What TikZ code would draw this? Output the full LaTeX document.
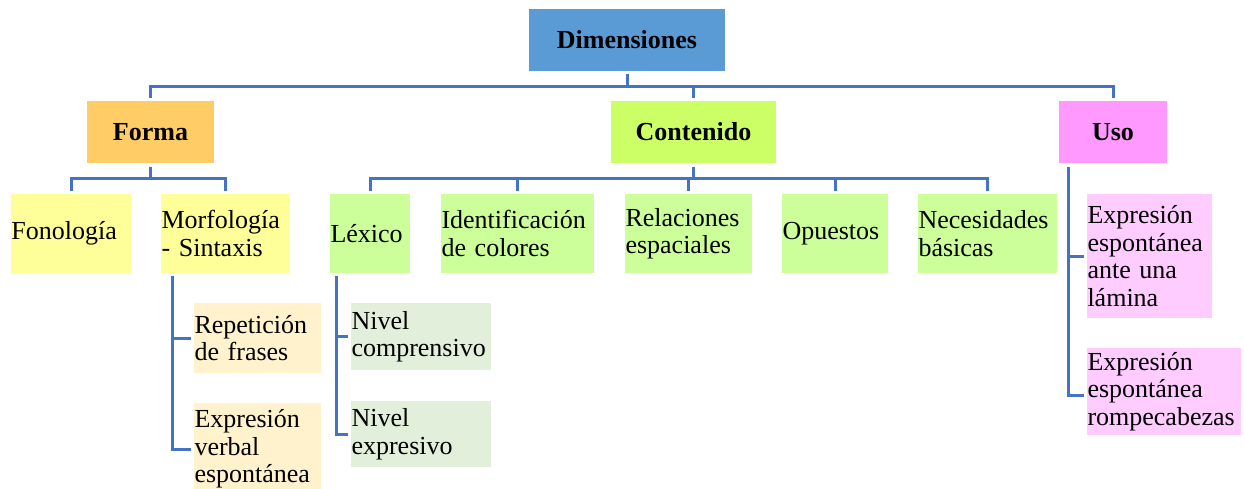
\documentclass[tikz,border=0pt]{standalone}
\usepackage{fontspec}
\setmainfont{Liberation Serif}
\usetikzlibrary{calc}
\definecolor{cdim}{HTML}{5B9BD5}
\definecolor{cforma}{HTML}{FFCC66}
\definecolor{ccont}{HTML}{CCFF66}
\definecolor{cuso}{HTML}{FF99FF}
\definecolor{cfono}{HTML}{FFFF99}
\definecolor{clex}{HTML}{CCFF99}
\definecolor{crep}{HTML}{FFF2CC}
\definecolor{cniv}{HTML}{E2EFDA}
\definecolor{cexp}{HTML}{FFCCFF}
\definecolor{cline}{HTML}{4472C4}
\newcommand\bxfont{\fontsize{26pt}{27.5pt}\selectfont}
\newcommand\bxbox[7]{%
  \pgfmathsetmacro\bxtw{#4-#2-1}%
  \pgfmathsetmacro\bxh{#5-#3}%
  \pgfmathsetmacro\bxcx{(#2+#4)/2}%
  \pgfmathsetmacro\bxcy{-(#3+#5)/2}%
  \node[#6, text width=\bxtw pt, minimum height=\bxh pt] (#1) at (\bxcx pt,\bxcy pt) {#7};}
\tikzset{
  base/.style={rectangle, inner xsep=0.5pt, inner ysep=0pt, font=\bxfont},
  head/.style={base, align=center, font=\bxfont\bfseries},
  leaf/.style={base, align=left},
  conn/.style={draw=cline, line width=3pt, line cap=butt},
}
\begin{document}
\begin{tikzpicture}
\useasboundingbox (0,0) rectangle (1244pt,-489pt);
% level 0 and 1
\bxbox{dim}{529}{9}{725}{71}{head, fill=cdim}{Dimensiones}
\bxbox{forma}{87}{101}{214}{163}{head, fill=cforma}{Forma}
\bxbox{cont}{611}{101}{776}{163}{head, fill=ccont}{Contenido}
\bxbox{uso}{1059}{101}{1167}{163}{head, fill=cuso}{Uso}
% level 2
\bxbox{fono}{11}{194}{131}{273}{leaf, fill=cfono}{Fonología}
\bxbox{morf}{161}{194}{290}{273}{leaf, fill=cfono}{Morfología\\- Sintaxis}
\bxbox{lex}{330}{194}{410}{273}{leaf, fill=clex}{Léxico}
\bxbox{ident}{441}{194}{594}{273}{leaf, fill=clex}{Identificación\\de colores}
\bxbox{rel}{625}{194}{752}{273}{leaf, fill=clex}{Relaciones\\espaciales}
\bxbox{opu}{782}{194}{888}{273}{leaf, fill=clex}{Opuestos}
\bxbox{nec}{918}{194}{1057}{273}{leaf, fill=clex}{Necesidades\\básicas}
% level 3
\bxbox{rep}{194}{303}{321}{373}{leaf, fill=crep}{Repetición\\de frases}
\bxbox{expv}{194}{403}{321}{495}{leaf, fill=crep}{Expresión\\verbal\\espontánea}
\bxbox{nc}{351}{303}{491}{370}{leaf, fill=cniv}{Nivel\\comprensivo}
\bxbox{ne}{351}{401}{491}{467}{leaf, fill=cniv}{Nivel\\expresivo}
\bxbox{u1}{1087}{194}{1212}{318}{leaf, fill=cexp}{Expresión\\espontánea\\ante una\\lámina}
\bxbox{u2}{1087}{348}{1241}{435}{leaf, fill=cexp}{Expresión\\espontánea\\rompecabezas}
% bus coordinates
\coordinate (b0) at (0,-86.5pt);
\coordinate (b1) at (0,-179pt);
% connectors level 0 -> 1
\draw[conn, shorten <=3pt] (dim.south) -- (dim.south |- b0);
\draw[conn, shorten <=3pt, shorten >=3pt] (forma.north) -- (forma.north |- b0) -- (uso.north |- b0) -- (uso.north);
\draw[conn, shorten <=3pt] (cont.north) -- (cont.north |- b0);
% Forma -> children
\draw[conn, shorten <=4pt] (forma.south) -- (forma.south |- b1);
\draw[conn, shorten <=3pt, shorten >=3pt] (fono.north) -- (fono.north |- b1) -- (morf.north |- b1) -- (morf.north);
% Contenido -> children
\draw[conn, shorten <=4pt] (cont.south) -- (cont.south |- b1);
\draw[conn, shorten <=3pt, shorten >=3pt] (lex.north) -- (lex.north |- b1) -- (nec.north |- b1) -- (nec.north);
\draw[conn, shorten >=3pt] (ident.north |- b1) -- (ident.north);
\draw[conn, shorten >=3pt] (rel.north |- b1) -- (rel.north);
\draw[conn, shorten >=3pt] (opu.north |- b1) -- (opu.north);
% Morfologia -> children
\coordinate (mx) at ([xshift=11.7pt]morf.south west);
\draw[conn, shorten <=3pt, shorten >=3pt] (mx) |- (expv.west);
\draw[conn, shorten >=3pt] (mx |- rep.west) -- (rep.west);
% Lexico -> children
\coordinate (lx) at ([xshift=7pt]lex.south west);
\draw[conn, shorten <=3pt, shorten >=3pt] (lx) |- (ne.west);
\draw[conn, shorten >=3pt] (lx |- nc.west) -- (nc.west);
% Uso -> children
\coordinate (ux) at ([xshift=9.5pt]uso.south west);
\coordinate (u2c) at ([yshift=-4pt]u2.west);
\draw[conn, shorten <=4pt, shorten >=3pt] (ux) |- (u2c);
\draw[conn, shorten >=3pt] (ux |- u1.west) -- (u1.west);
\end{tikzpicture}
\end{document}
